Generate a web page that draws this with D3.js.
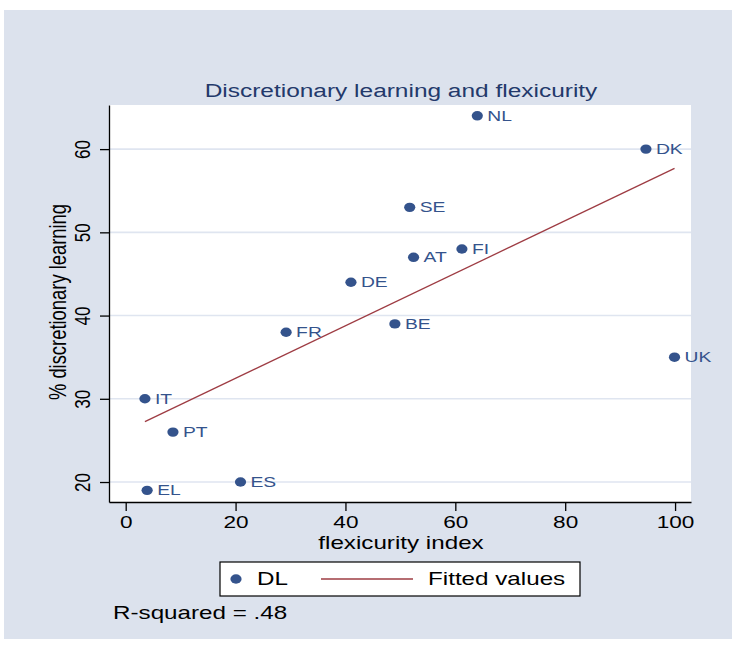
<!DOCTYPE html>
<html>
<head>
<meta charset="utf-8">
<script src="https://cdn.jsdelivr.net/npm/d3@7"></script>
<style>
  body { margin: 0; background: #fff; }
  svg { display: block; font-family: "Liberation Sans", Arial, sans-serif; }
</style>
</head>
<body>
<div id="chart"></div>
<script>
// data
const countries = ['NL','DK','SE','FI','AT','DE','BE','FR','UK','IT','PT','ES','EL'];
const flexicurity = [64, 94.7, 51.7, 61.2, 52.4, 41, 49, 29.2, 99.9, 3.5, 8.6, 20.9, 3.9];
const discretionary = [64, 60, 53, 48, 47, 44, 39, 38, 35, 30, 26, 20, 19];
const xTicks = [0, 20, 40, 60, 80, 100];
const yTicks = [20, 30, 40, 50, 60];

const width = 732, height = 648;
const stretch = 1.33; // text in the picture is wider than tall
const navy = '#34538c', maroon = '#9e3c43', bg = '#dce2ed';

const points = countries.map((c,i)=>({c, x: flexicurity[i], y: discretionary[i]}));

// OLS fit for the "Fitted values" line
const mx = d3.mean(points, d=>d.x), my = d3.mean(points, d=>d.y);
const slope = d3.sum(points, d=>(d.x-mx)*(d.y-my)) / d3.sum(points, d=>(d.x-mx)**2);
const icpt = my - slope*mx;
const xExt = d3.extent(points, d=>d.x);
const fit = xExt.map(x=>({x, y: icpt + slope*x}));

const svg = d3.select('#chart').append('svg')
  .attr('width', width).attr('height', height);

svg.append('rect').attr('x', 4).attr('y', 10).attr('width', width-4).attr('height', 629)
  .attr('fill', bg);

// plot region
const plot = {left: 109, right: 691, top: 105, bottom: 502};
const sx = d3.scaleLinear([-3.04, 102.9], [plot.left, plot.right]);
const sy = d3.scaleLinear([17.6, 65.3], [plot.bottom, plot.top]);

svg.append('rect')
  .attr('x', plot.left).attr('y', plot.top)
  .attr('width', plot.right-plot.left).attr('height', plot.bottom-plot.top)
  .attr('fill', '#fff');

// grid
svg.append('g').selectAll('line').data(yTicks).join('line')
  .attr('x1', plot.left).attr('x2', plot.right)
  .attr('y1', d=>sy(d)).attr('y2', d=>sy(d))
  .attr('stroke', '#dfe5f0').attr('stroke-width', 1.6);

// axes
const axX = svg.append('g').attr('transform', `translate(0,${plot.bottom})`)
  .call(d3.axisBottom(sx).tickValues(xTicks).tickSize(9).tickSizeOuter(0).tickPadding(5));
const axY = svg.append('g').attr('transform', `translate(${plot.left},0)`)
  .call(d3.axisLeft(sy).tickValues(yTicks).tickSize(9).tickSizeOuter(0));
[axX, axY].forEach(a=>{
  a.select('.domain').attr('stroke', '#000').attr('stroke-width', 1.3);
  a.selectAll('.tick line').attr('stroke', '#000').attr('stroke-width', 1.3);
});
axX.selectAll('.tick text')
  .attr('font-size', 17).attr('fill', '#000')
  .attr('transform', `scale(${stretch},1)`);
axY.selectAll('.tick text')
  .attr('x', 0).attr('y', 0).attr('dy', '0.35em')
  .attr('font-size', 17).attr('fill', '#000').attr('text-anchor', 'middle')
  .attr('transform', `translate(-27,0) rotate(-90) scale(1,${stretch})`);

// fitted line
svg.append('path').datum(fit)
  .attr('d', d3.line(d=>sx(d.x), d=>sy(d.y)))
  .attr('stroke', maroon).attr('stroke-width', 1.3).attr('fill', 'none');

// points
svg.append('g').selectAll('ellipse').data(points).join('ellipse')
  .attr('cx', d=>sx(d.x)).attr('cy', d=>sy(d.y))
  .attr('rx', 5.6).attr('ry', 4.7).attr('fill', navy);

svg.append('g').selectAll('text').data(points).join('text')
  .attr('transform', d=>`translate(${sx(d.x)+10},${sy(d.y)}) scale(${stretch},1)`)
  .attr('dy', '0.35em').attr('font-size', 14.5).attr('fill', navy)
  .text(d=>d.c);

// texts
function label(txt, x, y, size, opts={}){
  const rot = opts.rotate ? ` rotate(-90) scale(1,${stretch})` : ` scale(${stretch},1)`;
  return svg.append('text')
    .attr('transform', `translate(${x},${y})${rot}`)
    .attr('dy', '0.35em')
    .attr('text-anchor', opts.anchor || 'middle')
    .attr('font-size', size)
    .attr('fill', opts.fill || '#000')
    .text(txt);
}
label('Discretionary learning and flexicurity', 401, 91, 18.4, {fill: '#23396b'});
label('flexicurity index', 401, 543, 18.2);
label('% discretionary learning', 57, 302, 18.4, {rotate: true});

// legend
const lg = svg.append('g');
lg.append('rect').attr('x', 220).attr('y', 562).attr('width', 360).attr('height', 34)
  .attr('fill', '#fff').attr('stroke', '#000').attr('stroke-width', 1.2);
lg.append('ellipse').attr('cx', 236).attr('cy', 579).attr('rx', 5.6).attr('ry', 4.7).attr('fill', navy);
lg.append('line').attr('x1', 321).attr('x2', 413).attr('y1', 579).attr('y2', 579)
  .attr('stroke', maroon).attr('stroke-width', 1.3);
label('DL', 257, 579, 18.2, {anchor: 'start'});
label('Fitted values', 428, 579, 18.2, {anchor: 'start'});

label('R-squared = .48', 113, 613, 18.2, {anchor: 'start'});
</script>
</body>
</html>
